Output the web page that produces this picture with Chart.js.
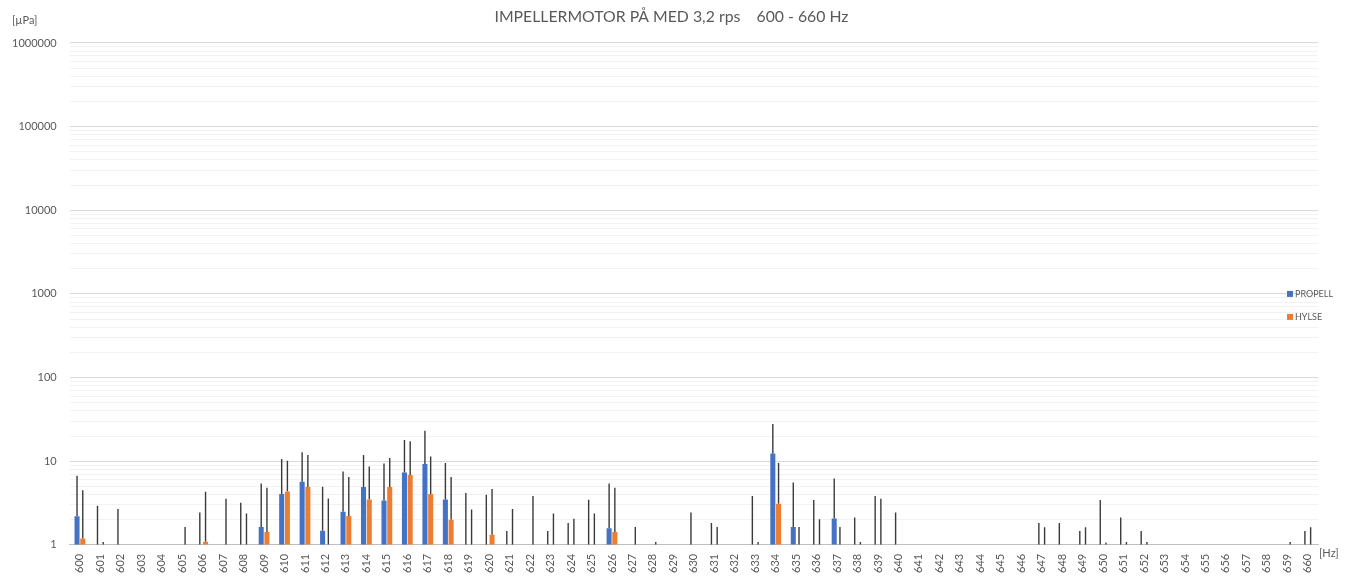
<!DOCTYPE html>
<html>
<head>
<meta charset="utf-8">
<script src="https://cdn.jsdelivr.net/npm/chart.js@4"></script>
<style>
  html, body { margin: 0; padding: 0; background: #fff; }
  #wrap { width: 1354px; height: 579px; }
</style>
</head>
<body>
<div id="wrap"><canvas id="chart1"></canvas></div>
<script>
var freqs = [];
for (var f = 600; f <= 660; f++) freqs.push(String(f));

// bar heights (null = below 1, not visible on the log axis)
var propell = [2.2,null,null,null,null,null,null,null,null,1.64,
  4.05,5.68,1.47,2.49,4.91,3.39,7.35,9.25,3.49,null,
  null,null,null,null,null,null,1.58,null,null,null,
  null,null,null,null,12.4,1.64,null,2.07,null,null,
  null,null,null,null,null,null,null,null,null,null,
  null,null,null,null,null,null,null,null,null,null,null];
var hylse = [1.19,null,null,null,null,null,1.09,null,null,1.42,
  4.35,4.91,null,2.22,3.49,4.91,6.84,4.05,1.99,null,
  1.32,null,null,null,null,null,1.42,null,null,null,
  null,null,null,null,3.1,null,null,null,null,null,
  null,null,null,null,null,null,null,null,null,null,
  null,null,null,null,null,null,null,null,null,null,null];

// top of the error bars
var propellTop = [6.7,2.93,2.68,null,null,null,2.44,null,3.18,5.42,
  10.6,12.8,4.95,7.55,11.9,9.42,17.9,23.2,9.5,4.16,
  3.97,1.46,null,1.46,1.83,3.46,5.42,null,null,null,
  2.44,1.82,null,3.83,27.9,5.57,3.43,6.22,2.12,3.83,
  2.44,null,null,null,null,null,null,1.82,1.82,1.46,
  3.43,2.12,1.46,null,null,null,null,null,null,null,1.46];
var hylseTop = [4.5,1.08,null,null,null,1.63,4.3,3.56,2.37,4.81,
  10.1,11.9,3.59,6.46,8.67,10.9,17.3,11.4,6.46,2.65,
  4.64,2.68,3.83,2.37,2.05,2.37,4.81,1.63,1.08,null,
  null,1.63,null,1.08,9.5,1.63,2.03,1.63,1.08,3.56,
  null,null,null,null,null,null,null,1.62,null,1.62,
  1.07,1.08,1.08,null,null,null,null,null,null,1.08,1.62];

var decades = [1, 10, 100, 1000, 10000, 100000, 1000000];
var decadeLabels = ["1","10","100","1000","10000","100000","1000000"];

function errRange(vals, tops) {
  return tops.map(function (t, i) {
    if (t === null) return null;
    return [vals[i] === null ? 1 : vals[i], t];
  });
}

var grey = '#595959';
var sideNotes = {
  id: 'sideNotes',
  afterLayout: function (chart) {
    // excel centres the title a bit further right
    if (chart.titleBlock) {
      chart.titleBlock.left += 13;
      chart.titleBlock.right += 13;
    }
  },
  afterDraw: function (chart) {
    var ctx = chart.ctx, a = chart.chartArea;
    ctx.save();
    ctx.fillStyle = grey;
    ctx.textBaseline = 'middle';
    ctx.font = '11px Lato';
    ctx.fillText('[µPa]', 12, 20);
    ctx.fillText('[Hz]', a.right + 1, a.bottom + 9);
    ctx.font = '9px Lato';
    var mid = (a.top + a.bottom) / 2;
    chart.data.datasets.slice(0, 2).forEach(function (ds, i) {
      var y = mid + i * 23;
      ctx.fillStyle = ds.backgroundColor;
      ctx.fillRect(a.right - 31, y - 3, 6, 6);
      ctx.fillStyle = grey;
      ctx.fillText(ds.label, a.right - 23, y);
    });
    ctx.restore();
  }
};

var barOpts = { categoryPercentage: 0.56, barPercentage: 0.88 };

new Chart("chart1", {
  type: "bar",
  data: {
    labels: freqs,
    datasets: [
      Object.assign({ label: 'PROPELL', data: propell, stack: 'p', backgroundColor: '#4472C4' }, barOpts),
      Object.assign({ label: 'HYLSE', data: hylse, stack: 'h', backgroundColor: '#ED7D31' }, barOpts),
      Object.assign({ label: 'err p', data: errRange(propell, propellTop), stack: 'p',
        backgroundColor: '#3a3a3a', maxBarThickness: 1.4 }, barOpts),
      Object.assign({ label: 'err h', data: errRange(hylse, hylseTop), stack: 'h',
        backgroundColor: '#3a3a3a', maxBarThickness: 1.4 }, barOpts)
    ]
  },
  options: {
    responsive: true,
    maintainAspectRatio: false,
    animation: false,
    layout: { padding: { left: -1, right: 36, bottom: -3, top: 0 } },
    plugins: {
      legend: { display: false },
      tooltip: { enabled: false },
      title: {
        display: true,
        text: 'IMPELLERMOTOR PÅ MED 3,2 rps    600 - 660 Hz',
        color: grey,
        font: { family: 'Lato', size: 15.8, weight: 'normal' },
        padding: { top: 7, bottom: 17 }
      }
    },
    scales: {
      x: {
        grid: { display: false, drawTicks: false },
        border: { color: '#bfbfbf' },
        ticks: {
          autoSkip: false, maxRotation: 90, minRotation: 90, padding: 9,
          color: grey, font: { family: 'Lato', size: 11 }
        }
      },
      y: {
        type: 'logarithmic',
        min: 1,
        max: 1000000,
        stacked: false,
        border: { display: false },
        afterBuildTicks: function (axis) {
          var t = [];
          decades.forEach(function (d, k) {
            var n = k === decades.length - 1 ? 1 : 9;
            for (var m = 1; m <= n; m++) t.push({ value: d * m });
          });
          axis.ticks = t;
        },
        grid: {
          drawTicks: false,
          color: function (c) {
            return decades.indexOf(c.tick.value) >= 0 ? '#d9d9d9' : '#f2f2f2';
          }
        },
        ticks: {
          autoSkip: false,
          padding: 13,
          color: grey,
          font: { family: 'Lato', size: 11 },
          callback: function (v) {
            var k = decades.indexOf(v);
            return k >= 0 ? decadeLabels[k] : '';
          }
        }
      }
    }
  },
  plugins: [sideNotes]
});
</script>
</body>
</html>
